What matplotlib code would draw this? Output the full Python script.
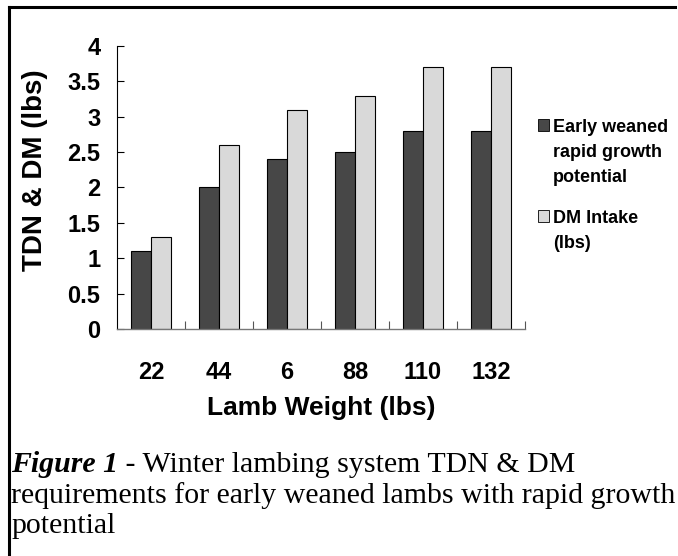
import numpy as np
import matplotlib.pyplot as plt
from matplotlib.lines import Line2D
from matplotlib.patches import Rectangle

plt.rcParams['font.family'] = ['Liberation Sans', 'DejaVu Sans']

weights = ['22', '44', '6', '88', '110', '132']
early = [1.1, 2.0, 2.4, 2.5, 2.8, 2.8]
dm_intake = [1.3, 2.6, 3.1, 3.3, 3.7, 3.7]
dark, light = '#474747', '#d9d9d9'

W, H = 678, 556
fig = plt.figure(figsize=(W / 100, H / 100), dpi=100)
ax = fig.add_axes([117 / W, 1 - 329 / H, 408 / W, 283 / H])

x = np.arange(len(weights))
w = 0.294
ax.bar(x - w / 2, early, w, color=dark, edgecolor='black', linewidth=0.8)
ax.bar(x + w / 2, dm_intake, w, color=light, edgecolor='black', linewidth=0.8)

ax.set_xlim(-0.5, 5.5)
ax.set_ylim(0, 4)
ax.set_yticks(np.arange(0, 4.01, 0.5))
ax.set_yticklabels(['0', '0.5', '1', '1.5', '2', '2.5', '3', '3.5', '4'],
                   fontsize=17, fontweight='bold')
ax.tick_params(axis='y', direction='in', length=5, width=0.8, pad=12)

ax.set_xticks(np.arange(0.5, 5.6, 1))
ax.set_xticklabels([])
ax.tick_params(axis='x', which='major', direction='in', length=6, width=0.8, color='#555555')
ax.set_xticks(x, minor=True)
ax.set_xticklabels(weights, minor=True, fontsize=17, fontweight='bold')
ax.tick_params(axis='x', which='minor', length=0, pad=23)

for s in ['top', 'right']:
    ax.spines[s].set_visible(False)
ax.spines['left'].set_linewidth(0.8)
ax.spines['bottom'].set_color('#777777')
ax.spines['bottom'].set_linewidth(1.0)

ax.set_xlabel('Lamb Weight (lbs)', fontsize=19, fontweight='bold', labelpad=9)
ax.set_ylabel('TDN & DM (lbs)', fontsize=20, fontweight='bold')
ax.yaxis.set_label_coords(-0.168, 0.562)

# legend, drawn by hand so each swatch sits on the first text line
legend_items = [(dark, ['Early weaned', 'rapid growth', 'potential'], 132),
                (light, ['DM Intake', '(lbs)'], 223)]
for col, lines, base in legend_items:
    fig.add_artist(Rectangle((538 / W, 1 - (base - 1) / H), 11 / W, 12 / H,
                             transform=fig.transFigure, facecolor=col,
                             edgecolor='black', linewidth=0.6))
    for i, ln in enumerate(lines):
        fig.text(553 / W, 1 - (base + 25 * i) / H, ln, fontsize=13,
                 fontweight='bold', va='baseline')

# caption
cap = dict(fontfamily=['Liberation Serif', 'DejaVu Serif'], fontsize=21.5, va='baseline')
t1 = fig.text(11 / W, 1 - 472 / H, 'Figure 1', fontstyle='italic', fontweight='bold', **cap)
fig.canvas.draw()
bb = t1.get_window_extent()
fig.text(bb.x1 / W, 1 - 472 / H, ' - Winter lambing system TDN & DM', **cap)
fig.text(11 / W, 1 - 503 / H, 'requirements for early weaned lambs with rapid growth', **cap)
fig.text(11 / W, 1 - 533 / H, 'potential', **cap)

# frame lines (top and left)
fig.add_artist(Line2D([8.5 / W, 675 / W], [1 - 7 / H] * 2, transform=fig.transFigure,
                      color='black', linewidth=2.2))
fig.add_artist(Line2D([8.5 / W, 8.5 / W], [0, 1 - 7 / H], transform=fig.transFigure,
                      color='black', linewidth=2.2))

fig.savefig('out.png', dpi=100)
